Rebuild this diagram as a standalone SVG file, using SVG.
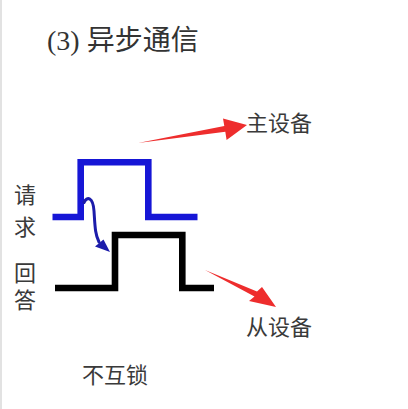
<svg xmlns="http://www.w3.org/2000/svg" width="408" height="409" viewBox="0 0 408 409">
  <style>
    .lbl { font-family: "Liberation Serif", "Noto Sans CJK SC", serif; font-size: 22px; fill: #3a3a3a; }
    .title { font-family: "Liberation Serif", "Noto Sans CJK SC", serif; font-size: 28px; fill: #333333; }
    .wave { fill: none; stroke-width: 6.6; stroke-linejoin: miter; stroke-linecap: butt; }
    .red { fill: #ee2d2d; }
  </style>
  <rect width="408" height="409" fill="#ffffff"/>
  <line x1="1" y1="0" x2="1" y2="409" stroke="#e2e2e2" stroke-width="2"/>

  <g id="title"><text class="title" x="47" y="50">(3) 异步通信</text></g>

  <g id="label-request">
    <text class="lbl" x="14" y="202.5">请</text>
    <text class="lbl" x="14" y="234.5">求</text>
  </g>
  <g id="label-answer">
    <text class="lbl" x="14" y="281">回</text>
    <text class="lbl" x="14" y="307.5">答</text>
  </g>

  <g id="master-signal">
    <polyline class="wave" stroke="#1616d6" points="52.5,217 80.7,217 80.7,162.3 148.3,162.3 148.3,217 197.5,217"/>
  </g>
  <g id="slave-signal">
    <polyline class="wave" stroke="#000000" points="55,288 115,288 115,235 182.3,235 182.3,288 214,288"/>
  </g>

  <g id="master-label"><text class="lbl" x="246" y="131">主设备</text></g>
  <g id="slave-label"><text class="lbl" x="246" y="335">从设备</text></g>
  <g id="no-interlock"><text class="lbl" x="82" y="382.5">不互锁</text></g>

  <g id="connectors">
    <path d="M84,202.5 C87,196 93,197 94,211 C95,226 95,234 99,242" fill="none" stroke="#1c1caa" stroke-width="3" stroke-linecap="round"/>
    <polygon points="95,246.5 103.5,239.5 110,252" fill="#1c1caa"/>
    <polygon class="red" points="138,143 224.3,125.9 223,118.5 247,125 226.6,140 225.3,131.8"/>
    <polygon class="red" points="205,270 257,291.5 262,287 276,307 249,301 254.5,296.5"/>
  </g>
</svg>
